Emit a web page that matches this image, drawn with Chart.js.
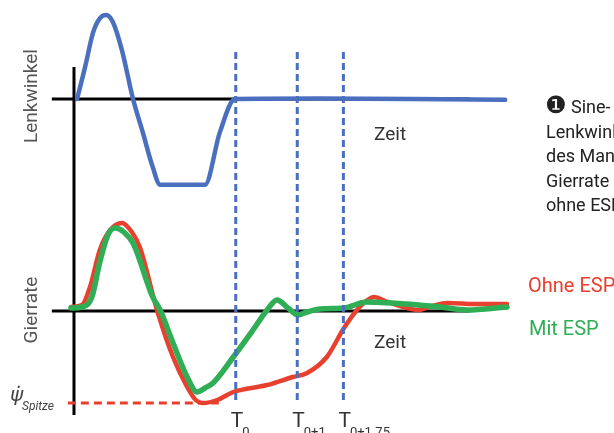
<!DOCTYPE html>
<html>
<head>
<meta charset="utf-8">
<script src="https://cdn.jsdelivr.net/npm/chart.js@4"></script>
<style>
    html, body { margin: 0; padding: 0; background: #fff; }
    .chart-box { width: 614px; height: 433px; position: relative; }
</style>
</head>
<body>
<div class="chart-box"><canvas id="esp"></canvas></div>
<script>
// Zeitachse in s, T0 = Ende des Lenkmanövers
const T0 = 2.63;
const timeMarks = [T0, T0 + 1, T0 + 1.75];
const timeMarkSubs = ['0', '0+1', '0+1.75'];

// Lenkwinkel (Grad)
const steerTime  = [0.05, 0.18, 0.31, 0.42, 0.52, 0.63, 0.78, 0.96, 1.12, 1.28, 1.40, 2.13, 2.37, 2.62, 4.0, 5.5, 7.01];
const steerAngle = [0,    38,   79,   96,   100,  92,   58,   0,    -40,  -81,  -102, -102, -40,  0,    0.5, 0,   -1];

// Gierrate ohne ESP (Grad/s)
const yawTimeOhne = [-0.05, 0.13, 0.26, 0.42, 0.59, 0.78, 0.94, 1.07, 1.35, 1.61, 1.84, 1.98, 2.10, 2.33, 2.59, 3.14, 3.56, 3.79, 4.11, 4.39, 4.60, 4.75, 4.88, 5.06, 5.30, 5.59, 5.82, 6.07, 6.52, 7.04];
const yawOhne     = [2,     3,    12,   30.5, 40.5, 44,   39.5, 32,   0.5,  -23,  -38,  -44.5, -46, -44.5, -40.5, -37, -33, -31,  -23,  -8.5, 0.5,  5,    7,    5,    2.5,  0.5,  2.5,  4,    3.5,  3.5];

// Gierrate mit ESP (Grad/s)
const yawTimeMit = [-0.05, 0.13, 0.29, 0.42, 0.55, 0.67, 0.81, 0.96, 1.28, 1.40, 1.61, 1.84, 2.00, 2.13, 2.26, 2.59, 2.91, 3.14, 3.30, 3.48, 3.64, 3.79, 4.00, 4.39, 4.76, 5.41, 5.95, 6.39, 7.04];
const yawMit     = [1.5,   2,    7,    24.5, 38,   41.5, 39.5, 34,   7,    0.5,  -16,  -33,  -40.5, -38.5, -36, -23,  -9.5, 0.5,  5.5,  1.5,  -2,   -0.5, 1,    1.5,  4.5,  3.5,  2,    0.5,  2];

const yawPeak = Math.min(...yawOhne);

function toPoints(xs, ys) {
    return xs.map((x, i) => ({ x: x, y: ys[i] }));
}

const blue = '#4a6fbe';
const red = '#e8402f';
const green = '#2fae55';

// Achsen, Hilfslinien und Beschriftungen
const decorations = {
    id: 'decorations',
    beforeDatasetsDraw(chart) {
        const ctx = chart.ctx;
        const x = chart.scales.x, ys = chart.scales.ySteer, yy = chart.scales.yYaw;
        ctx.save();
        ctx.strokeStyle = '#000';
        ctx.lineWidth = 3;
        // Nulllinien
        ctx.beginPath();
        ctx.moveTo(x.getPixelForValue(-0.36), ys.getPixelForValue(0));
        ctx.lineTo(x.getPixelForValue(6.44), ys.getPixelForValue(0));
        ctx.moveTo(x.getPixelForValue(-0.36), yy.getPixelForValue(0));
        ctx.lineTo(x.getPixelForValue(6.44), yy.getPixelForValue(0));
        // senkrechte Achse
        ctx.moveTo(x.getPixelForValue(0), ys.getPixelForValue(38));
        ctx.lineTo(x.getPixelForValue(0), yy.getPixelForValue(-52));
        ctx.stroke();

        // psi Spitze
        ctx.strokeStyle = red;
        ctx.setLineDash([8, 5]);
        ctx.beginPath();
        ctx.moveTo(x.getPixelForValue(-0.1), yy.getPixelForValue(yawPeak));
        ctx.lineTo(x.getPixelForValue(2.4), yy.getPixelForValue(yawPeak));
        ctx.stroke();
        ctx.restore();
    },
    afterDatasetsDraw(chart) {
        const ctx = chart.ctx;
        const x = chart.scales.x, ys = chart.scales.ySteer, yy = chart.scales.yYaw;
        ctx.save();
        ctx.strokeStyle = blue;
        ctx.lineWidth = 3;
        ctx.setLineDash([7, 4]);
        timeMarks.forEach(t => {
            const px = x.getPixelForValue(t);
            ctx.beginPath();
            ctx.moveTo(px, ys.getPixelForValue(56));
            ctx.lineTo(px, yy.getPixelForValue(-45.5));
            ctx.stroke();
        });
        ctx.setLineDash([]);

        // T-Beschriftungen
        ctx.fillStyle = '#333';
        ctx.textBaseline = 'top';
        ctx.textAlign = 'left';
        timeMarks.forEach((t, i) => {
            const px = x.getPixelForValue(t) - 5;
            ctx.font = '21px Roboto';
            ctx.fillText('T', px, 411);
            const w = ctx.measureText('T').width;
            ctx.font = '13px Roboto';
            ctx.fillText(timeMarkSubs[i], px + w - 1, 426);
        });

        // Achsentitel
        ctx.fillStyle = '#555';
        ctx.font = '19px Roboto';
        ctx.textAlign = 'center';
        ctx.textBaseline = 'middle';
        [['Lenkwinkel', 96], ['Gierrate', 310]].forEach(([txt, cy]) => {
            ctx.save();
            ctx.translate(32, cy);
            ctx.rotate(-Math.PI / 2);
            ctx.fillText(txt, 0, 0);
            ctx.restore();
        });

        ctx.textAlign = 'left';
        ctx.fillStyle = '#333';
        ctx.font = '19px Roboto';
        ctx.fillText('Zeit', 374, 135);
        ctx.fillText('Zeit', 374, 343);

        ctx.font = '20px Roboto';
        ctx.fillStyle = red;
        ctx.fillText('Ohne ESP', 528, 287);
        ctx.fillStyle = green;
        ctx.fillText('Mit ESP', 529, 330);

        // Bildunterschrift rechts (am Rand abgeschnitten)
        ctx.fillStyle = '#222';
        ctx.font = '24px "DejaVu Sans"';
        ctx.fillText('\u2776', 545, 107);
        ctx.font = '18px Roboto';
        ctx.fillText('Sine-', 571, 108);
        const caption = ['Lenkwinkel', 'des Manövers,', 'Gierrate mit und', 'ohne ESP'];
        caption.forEach((line, i) => ctx.fillText(line, 546, 133 + i * 24.5));

        // psi Spitze
        ctx.fillStyle = '#444';
        ctx.font = 'italic 20px "DejaVu Sans"';
        ctx.fillText('\u03C8\u0307', 10, 396);
        ctx.font = 'italic 12px Roboto';
        ctx.fillText('Spitze', 22, 407);
        ctx.restore();
    }
};

new Chart(document.getElementById('esp'), {
    type: 'line',
    data: {
        datasets: [
            {
                label: 'Mit ESP',
                data: toPoints(yawTimeMit, yawMit),
                yAxisID: 'yYaw',
                borderColor: green,
                borderWidth: 5.5,
                order: 0,
            },
            {
                label: 'Ohne ESP',
                data: toPoints(yawTimeOhne, yawOhne),
                yAxisID: 'yYaw',
                borderColor: red,
                borderWidth: 4.5,
                order: 1,
            },
            {
                label: 'Lenkwinkel',
                data: toPoints(steerTime, steerAngle),
                yAxisID: 'ySteer',
                borderColor: blue,
                borderWidth: 4.5,
                order: 2,
            }
        ]
    },
    options: {
        responsive: true,
        maintainAspectRatio: false,
        animation: false,
        layout: { padding: 0, autoPadding: false },
        elements: {
            point: { radius: 0 },
            line: { cubicInterpolationMode: 'monotone', fill: false, borderCapStyle: 'round', borderJoinStyle: 'round' }
        },
        plugins: { legend: { display: false }, tooltip: { enabled: false } },
        scales: {
            x: { type: 'linear', min: -1.203, max: 8.78, display: false },
            ySteer: { type: 'linear', min: -397.6, max: 117.9, display: false },
            yYaw: { type: 'linear', min: -61, max: 155.5, display: false }
        }
    },
    plugins: [decorations]
});
</script>
</body>
</html>
